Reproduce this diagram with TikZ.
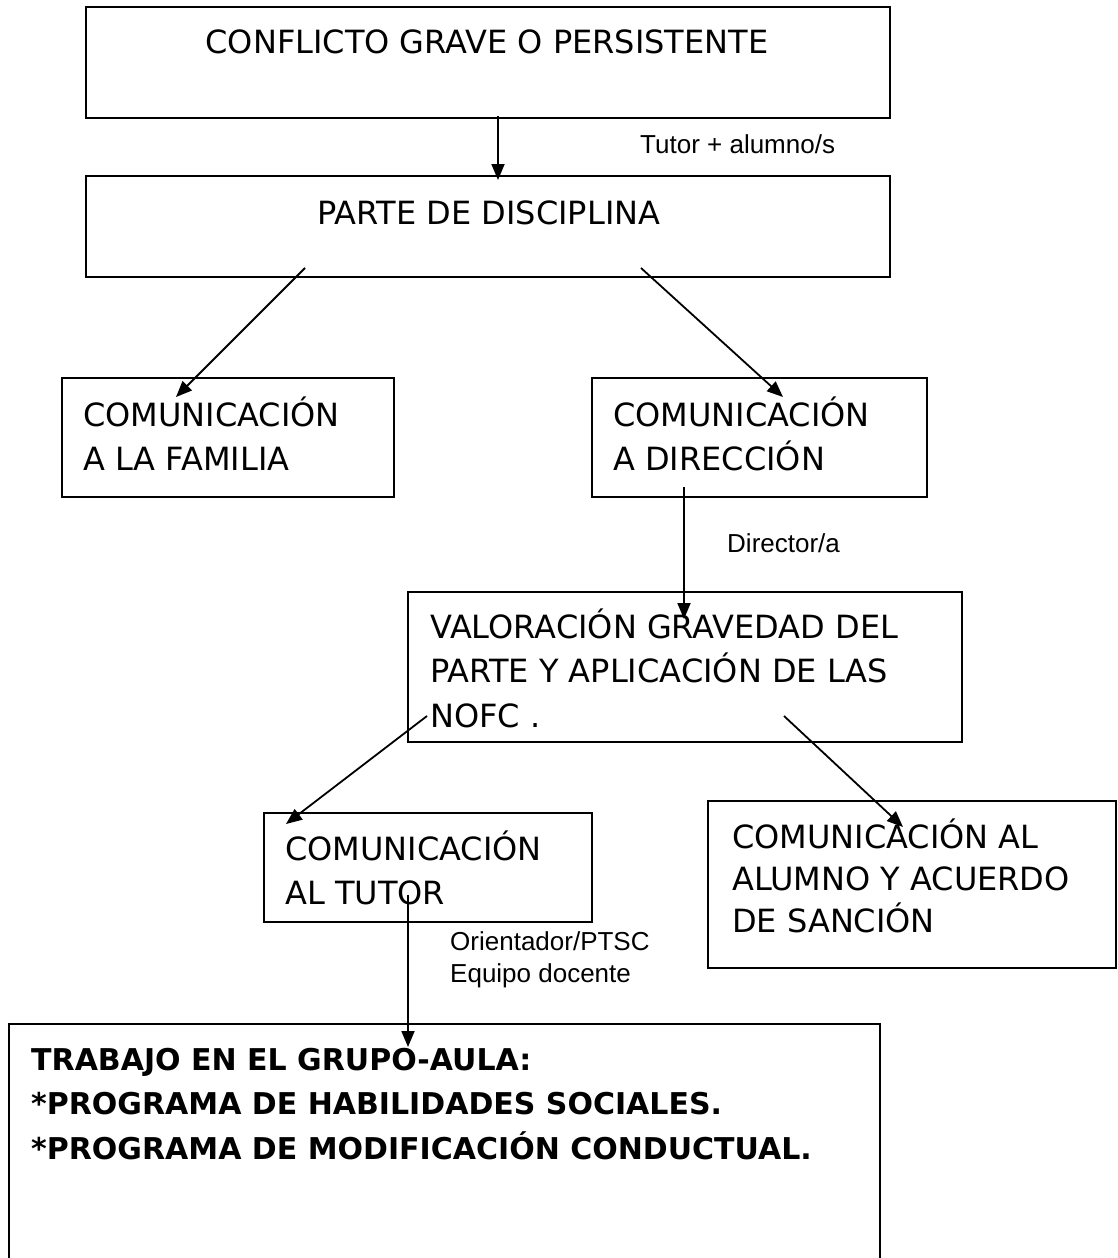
\documentclass[tikz,border=0pt]{standalone}
\usepackage{fontspec}
\setmainfont{DejaVu Sans}
\newfontfamily\arialfont{Liberation Sans}
\usetikzlibrary{arrows.meta}
\newcommand\boxlines[2]{\parbox[t]{#1}{\raggedright #2}}
\begin{document}
\begin{tikzpicture}[x=1pt,y=-1pt,
  boxnode/.style={draw=black, line width=1.5pt, anchor=north west, inner sep=0pt, outer sep=0pt},
  boxtext/.style={anchor=base west, inner sep=0pt, font=\fontsize{32}{44.5}\selectfont},
  boldtext/.style={anchor=base west, inner sep=0pt, font=\fontsize{30}{44.5}\selectfont\bfseries},
  lbl/.style={anchor=base west, inner sep=0pt, font=\arialfont\fontsize{26}{32}\selectfont},
  flow/.style={line width=1.8pt, -{Triangle[length=16pt,width=13pt]}}]
\useasboundingbox (0,0) rectangle (1117,1258);
\clip (0,0) rectangle (1117,1258);
\fill[white] (0,0) rectangle (1117,1258);

% boxes
\node[boxnode, minimum width=804pt, minimum height=111pt] (b1) at (86,7) {};
\node[boxnode, minimum width=804pt, minimum height=101pt] (b2) at (86,176) {};
\node[boxnode, minimum width=332pt, minimum height=119pt] (b3) at (62,378) {};
\node[boxnode, minimum width=335pt, minimum height=119pt] (b4) at (592,378) {};
\node[boxnode, minimum width=554pt, minimum height=150pt] (b5) at (408,592) {};
\node[boxnode, minimum width=328pt, minimum height=109pt] (b6) at (264,813) {};
\node[boxnode, minimum width=408pt, minimum height=167pt] (b7) at (708,801) {};
\node[boxnode, minimum width=871pt, minimum height=270pt] (b8) at (9,1024) {};

% texts
\node[boxtext, anchor=base] (t1) at (487,53) {CONFLICTO GRAVE O PERSISTENTE};
\node[boxtext, anchor=base] (t2) at (489,224) {PARTE DE DISCIPLINA};
\node[boxtext] (t3) at (83,426) {\boxlines{300pt}{COMUNICACIÓN\\A LA FAMILIA}};
\node[boxtext] (t4) at (613,426) {\boxlines{300pt}{COMUNICACIÓN\\A DIRECCIÓN}};
\node[boxtext] (t5) at (430,638) {\boxlines{520pt}{VALORACIÓN GRAVEDAD DEL\\PARTE Y APLICACIÓN DE LAS\\NOFC .}};
\node[boxtext] (t6) at (285,860) {\boxlines{300pt}{COMUNICACIÓN\\AL TUTOR}};
\node[boxtext, font=\fontsize{32}{42}\selectfont] (t7) at (732,848) {\boxlines{380pt}{COMUNICACIÓN AL\\ALUMNO Y ACUERDO\\DE SANCIÓN}};
\node[boldtext] (t8) at (31,1070) {\boxlines{860pt}{TRABAJO EN EL GRUPO-AULA:\\\relax{*}PROGRAMA DE HABILIDADES SOCIALES.\\\relax{*}PROGRAMA DE MODIFICACIÓN CONDUCTUAL.}};

% labels
\node[lbl] (l1) at (640,153) {Tutor + alumno/s};
\node[lbl] (l2) at (727,552) {Director/a};
\node[lbl] (l3) at (450,950) {\boxlines{250pt}{Orientador/PTSC\\Equipo docente}};

% connector end points
\coordinate (s1) at (498,116);  \coordinate (e1) at (498,180);
\coordinate (s2) at (305,268);  \coordinate (e2) at (176,397);
\coordinate (s3) at (641,268);  \coordinate (e3) at (783,397);
\coordinate (s4) at (684,487);  \coordinate (e4) at (684,619);
\coordinate (s5) at (427,716);  \coordinate (e5) at (286,824);
\coordinate (s6) at (784,716);  \coordinate (e6) at (903,827);
\coordinate (s7) at (408,895);  \coordinate (e7) at (408,1047);

\draw[flow] (s1) -- (e1);
\draw[flow] (s2) -- (e2);
\draw[flow] (s3) -- (e3);
\draw[flow] (s4) -- (e4);
\draw[flow] (s5) -- (e5);
\draw[flow] (s6) -- (e6);
\draw[flow] (s7) -- (e7);
\end{tikzpicture}
\end{document}
